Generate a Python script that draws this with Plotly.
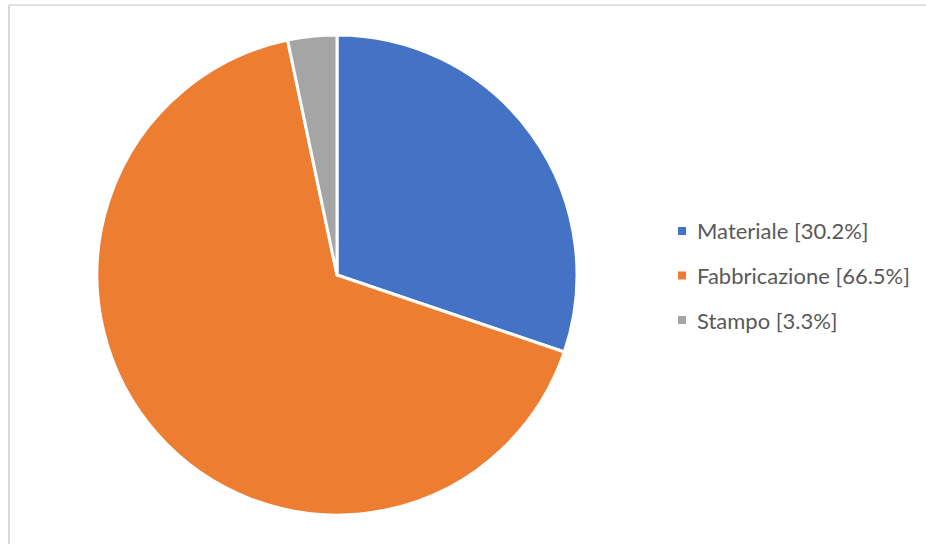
import plotly.graph_objects as go

# Cost breakdown
categories = ["Materiale", "Fabbricazione", "Stampo"]
shares = [30.2, 66.5, 3.3]
colors = ["#4472C4", "#ED7D31", "#A5A5A5"]

W, H = 926, 544

fig = go.Figure(
    go.Pie(
        labels=categories,
        values=shares,
        sort=False,
        direction="clockwise",
        rotation=0,
        textinfo="none",
        marker=dict(colors=colors, line=dict(color="white", width=3)),
        domain=dict(x=[97 / W, 577 / W], y=[29 / H, 509 / H]),
        showlegend=False,
    )
)

# Legend entries drawn beside the pie
legend_x = 682
legend_y0 = 231
legend_step = 44.5
shapes = []
annotations = []
for i, (name, val, col) in enumerate(zip(categories, shares, colors)):
    cy = legend_y0 + i * legend_step
    shapes.append(dict(
        type="rect", xref="paper", yref="paper",
        x0=(legend_x - 4) / W, x1=(legend_x + 4) / W,
        y0=1 - (cy + 4) / H, y1=1 - (cy - 4) / H,
        fillcolor=col, line=dict(width=0),
    ))
    annotations.append(dict(
        xref="paper", yref="paper", x=695 / W, y=1 - cy / H,
        xanchor="left", yanchor="middle", showarrow=False,
        text=f"{name} [{val:.1f}%]",
        font=dict(family="Lato", size=22, color="#595959"),
    ))

# Chart-area frame (top and left edges)
shapes.append(dict(type="line", xref="paper", yref="paper",
                   x0=9 / W, x1=1, y0=1 - 5 / H, y1=1 - 5 / H,
                   line=dict(color="#d9d9d9", width=1.5)))
shapes.append(dict(type="line", xref="paper", yref="paper",
                   x0=9 / W, x1=9 / W, y0=0, y1=1 - 5 / H,
                   line=dict(color="#d9d9d9", width=2)))

fig.update_layout(
    width=W, height=H,
    margin=dict(l=0, r=0, t=0, b=0),
    paper_bgcolor="white",
    plot_bgcolor="white",
    shapes=shapes,
    annotations=annotations,
)

fig.write_html("out.html")
